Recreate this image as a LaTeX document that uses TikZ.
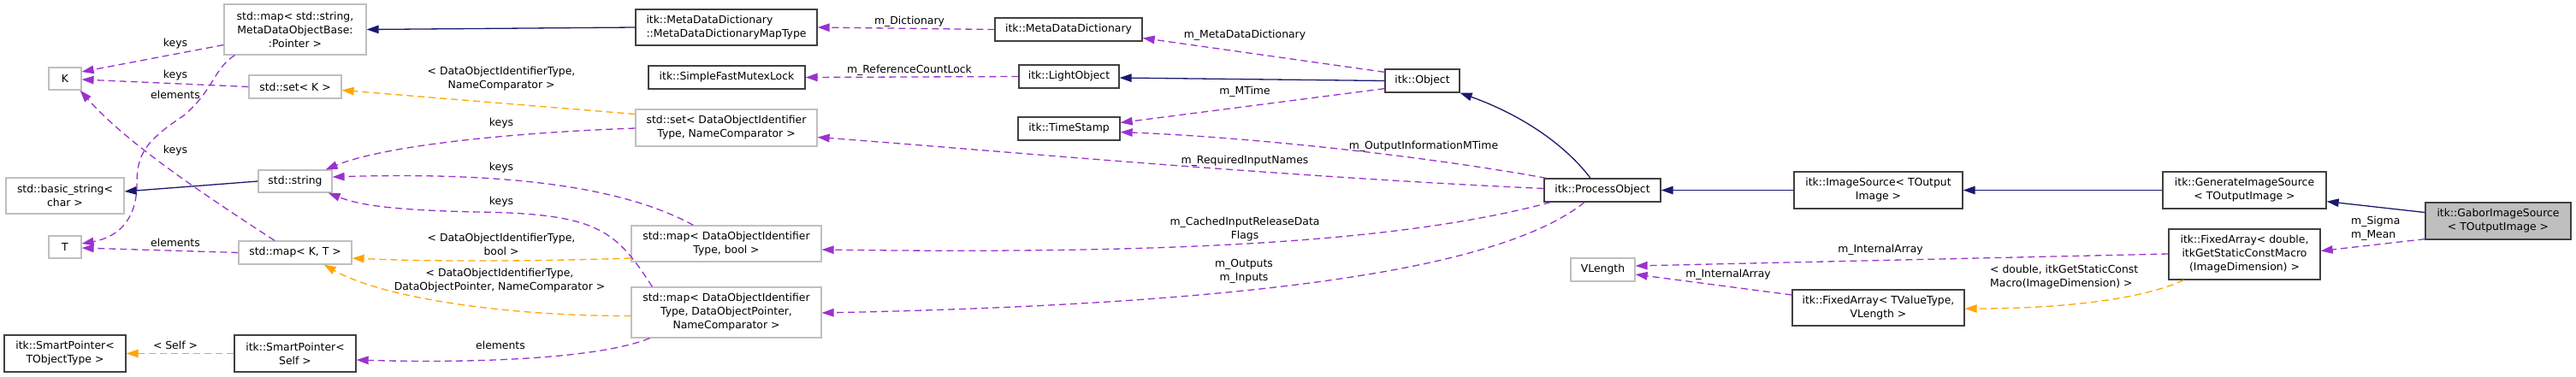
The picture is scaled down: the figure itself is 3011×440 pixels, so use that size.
\documentclass[tikz,border=0pt]{standalone}
\usepackage{fontspec}
\setmainfont{DejaVu Sans}
\usetikzlibrary{arrows.meta,calc}
\definecolor{edgepurple}{HTML}{9A32CD}
\definecolor{edgeorange}{HTML}{FFA500}
\definecolor{edgenavy}{HTML}{191970}
\definecolor{boxgray}{HTML}{BFBFBF}
\definecolor{boxdark}{HTML}{404040}
\tikzset{
  txt/.style={font=\fontsize{12.4}{16}\selectfont, align=center, inner sep=0pt},
  graybox/.style={txt, draw=boxgray, line width=1.2pt, fill=white},
  darkbox/.style={txt, draw=boxdark, line width=1.3pt, fill=white},
  selfbox/.style={txt, draw=boxdark, line width=1.3pt, fill=boxgray},
  sz/.style 2 args={minimum width=#1pt, minimum height=#2pt},
  lbl/.style={txt},
  tip/.style={-{Triangle[length=14pt,width=9.5pt]}},
  inherit/.style={tip, draw=edgenavy, line width=1.3pt},
  useedge/.style={tip, draw=edgepurple, line width=1.3pt, dash pattern=on 8pt off 5pt},
  tmpledge/.style={tip, draw=edgeorange, line width=1.3pt, dash pattern=on 8pt off 5pt},
}
\begin{document}
\begin{tikzpicture}[x=1pt,y=-1pt]
\useasboundingbox (0,0) rectangle (3011,440);
% ---------- nodes ----------
\node[graybox, sz={166}{59}] (mapstr) at (345,34.5) {std::map< std::string,\\MetaDataObjectBase:\\:Pointer >};
\node[graybox, sz={38}{26}] (K) at (76,92) {K};
\node[graybox, sz={108}{27}] (setK) at (345,101.5) {std::set< K >};
\node[graybox, sz={138}{42}] (basicstr) at (76,229) {std::basic\_string<\\char >};
\node[graybox, sz={86}{26}] (str) at (345,212) {std::string};
\node[graybox, sz={38}{26}] (T) at (76,289) {T};
\node[graybox, sz={132}{27}] (mapKT) at (345,295.5) {std::map< K, T >};
\node[darkbox, sz={142}{43}] (spTO) at (76,413.5) {itk::SmartPointer<\\TObjectType >};
\node[darkbox, sz={142}{43}] (spSelf) at (345,413.5) {itk::SmartPointer<\\Self >};
\node[darkbox, sz={212}{42}, align=left] (mapType) at (849,32) {itk::MetaDataDictionary\\::MetaDataDictionaryMapType};
\node[darkbox, sz={172}{27}] (mdd) at (1249,34.5) {itk::MetaDataDictionary};
\node[darkbox, sz={183}{27}] (sfml) at (849.5,90.5) {itk::SimpleFastMutexLock};
\node[darkbox, sz={117}{27}] (lo) at (1249.5,89.5) {itk::LightObject};
\node[graybox, sz={212}{43}] (setDOIT) at (849,149.5) {std::set< DataObjectIdentifier\\Type, NameComparator >};
\node[darkbox, sz={119}{27}] (ts) at (1249.5,150.5) {itk::TimeStamp};
\node[graybox, sz={222}{42}] (mapBool) at (849,285) {std::map< DataObjectIdentifier\\Type, bool >};
\node[graybox, sz={222}{59}] (mapDOP) at (849,365.5) {std::map< DataObjectIdentifier\\Type, DataObjectPointer,\\NameComparator >};
\node[darkbox, sz={87}{27}] (obj) at (1662.5,94.5) {itk::Object};
\node[darkbox, sz={136}{27}] (po) at (1873,222.5) {itk::ProcessObject};
\node[darkbox, sz={197}{43}] (imgsrc) at (2195.5,222.5) {itk::ImageSource< TOutput\\Image >};
\node[graybox, sz={75}{27}] (vlen) at (1873.5,315.5) {VLength};
\node[darkbox, sz={201}{42}] (faTV) at (2195.5,360) {itk::FixedArray< TValueType,\\VLength >};
\node[darkbox, sz={191}{43}] (gis) at (2623.5,222.5) {itk::GenerateImageSource\\< TOutputImage >};
\node[darkbox, sz={177}{59}] (faD) at (2623.5,297.5) {itk::FixedArray< double,\\itkGetStaticConstMacro\\(ImageDimension) >};
\node[selfbox, sz={170}{43}] (gabor) at (2920,258.5) {itk::GaborImageSource\\< TOutputImage >};
% ---------- edges: left part ----------
\draw[useedge] ($(mapstr.west)+(0,18)$) -- ($(K.east)+(0,-8)$);
\draw[useedge] (setK.west) -- ($(K.east)+(0,1)$);
\draw[useedge] ($(mapstr.south west)+(13,0)$) .. controls (250,80) and (250,105) .. (215,135)
   .. controls (170,165) and (160,180) .. (160,215)
   .. controls (160,255) and (140,277) .. ($(T.east)+(0,-4)$);
\draw[useedge] ($(mapKT.north)+(-24,0)$) .. controls (250,235) and (150,170) .. ($(K.south east)+(-2,0)$);
\draw[useedge] (mapKT.west) -- ($(T.east)+(0,1)$);
\draw[inherit] (str.west) -- ($(basicstr.east)+(0,-5)$);
\draw[tmpledge] (spSelf.west) -- (spTO.east);
\draw[tmpledge] ($(setDOIT.west)+(0,-16)$) -- ($(setK.east)+(0,4)$);
\draw[useedge] ($(setDOIT.west)+(0,0.5)$) .. controls (600,155) and (450,170) .. ($(str.north east)+(-8,0)$);
\draw[useedge] ($(mapBool.north west)+(73,0)$) .. controls (740,225) and (620,200) .. ($(str.east)+(0,-5)$);
\draw[useedge] ($(mapDOP.north west)+(25,0)$) .. controls (720,270) and (700,250) .. (560,248)
   .. controls (460,246) and (420,240) .. ($(str.south east)+(-5,0)$);
\draw[tmpledge] ($(mapBool.west)+(0,17)$) .. controls (620,306) and (500,306) .. ($(mapKT.east)+(0,6.5)$);
\draw[tmpledge] ($(mapDOP.west)+(0,4)$) .. controls (600,370) and (450,350) .. ($(mapKT.south east)+(-33,0)$);
\draw[useedge] ($(mapDOP.south west)+(22,0)$) .. controls (700,420) and (550,425) .. ($(spSelf.east)+(0,7.5)$);
% ---------- edges: middle/right ----------
\draw[inherit] (mapType.west) -- (mapstr.east);
\draw[useedge] (mdd.west) -- (mapType.east);
\draw[useedge] ($(obj.north west)+(0,4)$) -- ($(mdd.east)+(0,10)$);
\draw[useedge] (lo.west) -- (sfml.east);
\draw[inherit] (obj.west) -- ($(lo.east)+(0,1.5)$);
\draw[useedge] ($(obj.south west)+(0,-5)$) -- ($(ts.east)+(0,-7)$);
\draw[useedge] ($(po.north west)+(3,0)$) .. controls (1650,180) and (1450,160) .. ($(ts.east)+(0,4)$);
\draw[useedge] ($(po.west)+(0,-2)$) .. controls (1500,207) and (1150,175) .. ($(setDOIT.east)+(0,11)$);
\draw[inherit] ($(po.north)+(-14,0)$) .. controls (1830,170) and (1780,135) .. (obj.south east);
\draw[useedge] ($(po.south west)+(8,0)$) .. controls (1650,280) and (1400,298) .. ($(mapBool.east)+(0,7)$);
\draw[useedge] ($(po.south)+(-21,0)$) .. controls (1760,310) and (1500,355) .. ($(mapDOP.east)+(0,0.5)$);
\draw[inherit] (imgsrc.west) -- (po.east);
\draw[inherit] (gis.west) -- (imgsrc.east);
\draw[inherit] ($(gabor.west)+(0,-10)$) -- ($(gis.south east)+(0,-9)$);
\draw[useedge] ($(gabor.south west)+(0,-1)$) -- ($(faD.east)+(0,-4)$);
\draw[useedge] ($(faD.west)+(0,-0.5)$) -- ($(vlen.east)+(0,-4.5)$);
\draw[useedge] ($(faTV.west)+(0,-15)$) -- ($(vlen.east)+(0,5.5)$);
\draw[tmpledge] ($(faD.south west)+(18,0)$) .. controls (2500,352) and (2400,361) .. ($(faTV.east)+(0,1)$);
% ---------- labels ----------
\node[lbl] (l1) at (205,51) {keys};
\node[lbl] (l2) at (205,88) {keys};
\node[lbl] (l3) at (205,111) {elements};
\node[lbl] (l4) at (205,176) {keys};
\node[lbl] (l5) at (205,284) {elements};
\node[lbl] (l6) at (205,404) {< Self >};
\node[lbl] (l7) at (586,92.5) {< DataObjectIdentifierType,\\NameComparator >};
\node[lbl] (l8) at (586,144) {keys};
\node[lbl] (l9) at (586,196) {keys};
\node[lbl] (l10) at (586,236) {keys};
\node[lbl] (l11) at (586,286) {< DataObjectIdentifierType,\\bool >};
\node[lbl] (l12) at (584,328) {< DataObjectIdentifierType,\\DataObjectPointer, NameComparator >};
\node[lbl] (l13) at (585,404) {elements};
\node[lbl] (l14) at (1063,25) {m\_Dictionary};
\node[lbl] (l15) at (1063,82) {m\_ReferenceCountLock};
\node[lbl] (l16) at (1455,41) {m\_MetaDataDictionary};
\node[lbl] (l17) at (1455,107) {m\_MTime};
\node[lbl] (l18) at (1664,171) {m\_OutputInformationMTime};
\node[lbl] (l19) at (1455,188) {m\_RequiredInputNames};
\node[lbl] (l20) at (1455,268) {m\_CachedInputReleaseData\\Flags};
\node[lbl] (l21) at (1454,317) {m\_Outputs\\m\_Inputs};
\node[lbl] (l22) at (2198,292) {m\_InternalArray};
\node[lbl] (l23) at (2020,321) {m\_InternalArray};
\node[lbl, align=left, anchor=west] (l24) at (2326,324) {< double, itkGetStaticConst\\Macro(ImageDimension) >};
\node[lbl, align=left, anchor=west] (l25) at (2748,267) {m\_Sigma\\m\_Mean};
\end{tikzpicture}
\end{document}
